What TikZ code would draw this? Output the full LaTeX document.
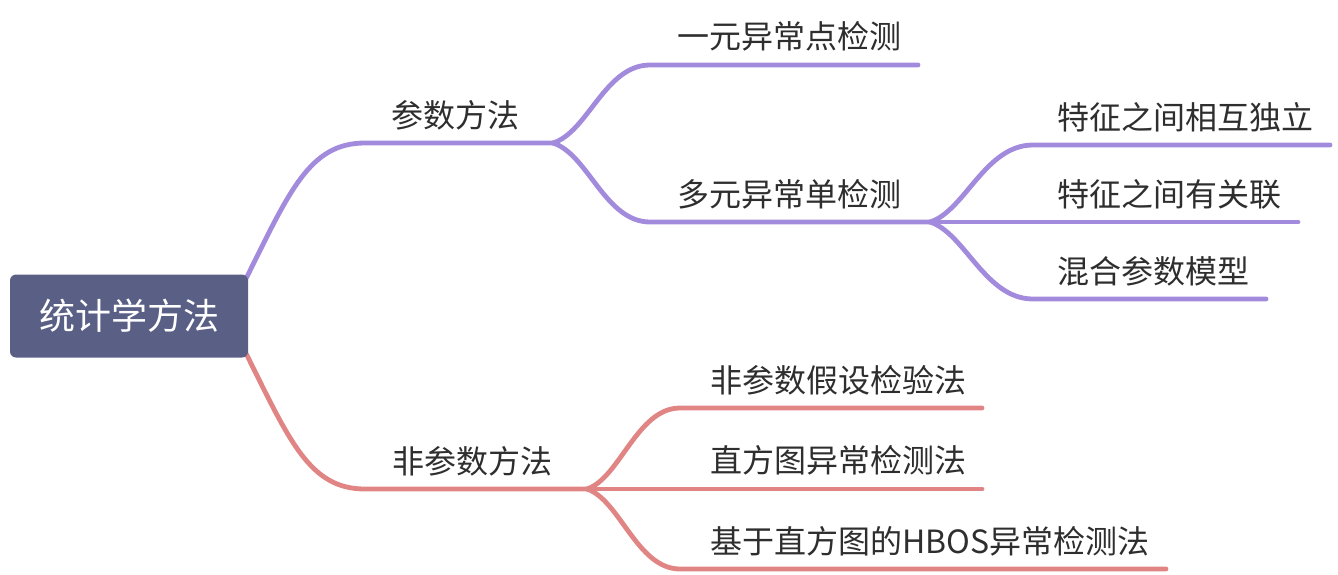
\documentclass[tikz,border=0pt]{standalone}
\usepackage{fontspec}
\setmainfont{Noto Sans CJK SC}
\usetikzlibrary{calc}
\pgfdeclarelayer{bg}
\pgfsetlayers{bg,main}
\definecolor{rootc}{HTML}{5A5F86}
\definecolor{purp}{HTML}{A28ADC}
\definecolor{redc}{HTML}{E08484}
\definecolor{txt}{HTML}{2E2E2E}
\begin{document}
\begin{tikzpicture}[x=1pt,y=-1pt,
  topic/.style={anchor=west,inner sep=0pt,text=txt,font=\fontsize{32}{32}\selectfont},
  rootbox/.style={fill=rootc,rounded corners=6pt,minimum width=238pt,minimum height=83pt,text=white,font=\fontsize{36}{36}\selectfont,inner sep=0pt},
  pl/.style={draw=purp,line width=4.8pt,line cap=round},
  rl/.style={draw=redc,line width=4.8pt,line cap=round}]
\useasboundingbox (0,0) rectangle (1338,574);
\node[rootbox] (root) at (129,316) {统计学方法};
% topic texts
\node[topic] (p1) at (391,115) {参数方法};
\node[topic] (a1) at (677,36) {一元异常点检测};
\node[topic] (a2) at (677,194) {多元异常单检测};
\node[topic] (b1) at (1057,117) {特征之间相互独立};
\node[topic] (b2) at (1057,194) {特征之间有关联};
\node[topic] (b3) at (1057,271) {混合参数模型};
\node[topic] (q1) at (392,461) {非参数方法};
\node[topic] (c1) at (710,380) {非参数假设检验法};
\node[topic] (c2) at (710,460) {直方图异常检测法};
\node[topic] (c3) at (710,541) {基于直方图的HBOS异常检测法};
% line coordinates
\coordinate (p1l) at (365,143); \coordinate (p1r) at (553,143);
\coordinate (a1l) at (650,65);  \coordinate (a1r) at (918,65);
\coordinate (a2l) at (650,222); \coordinate (a2r) at (930,222);
\coordinate (b1l) at (1033,145); \coordinate (b1r) at (1330,145);
\coordinate (b2r) at (1298,222);
\coordinate (b3l) at (1033,299); \coordinate (b3r) at (1266,299);
\coordinate (q1l) at (365,489); \coordinate (q1r) at (587,489);
\coordinate (c1l) at (680,408); \coordinate (c1r) at (982,408);
\coordinate (c2r) at (982,489);
\coordinate (c3l) at (680,569); \coordinate (c3r) at (1166,569);
\begin{pgfonlayer}{bg}
\draw[pl] ($(root.north east)+(-2,4)$) .. controls (290,190) and (310,143) .. (p1l) -- (p1r);
\draw[pl] (p1r) .. controls (588,132) and (605,65) .. (a1l) -- (a1r);
\draw[pl] (p1r) .. controls (588,154) and (605,222) .. (a2l) -- (a2r);
\draw[pl] (a2r) .. controls (965,211) and (985,145) .. (b1l) -- (b1r);
\draw[pl] (a2r) -- (b2r);
\draw[pl] (a2r) .. controls (965,233) and (985,299) .. (b3l) -- (b3r);
\draw[rl] ($(root.south east)+(-2,-4)$) .. controls (290,442) and (310,489) .. (q1l) -- (q1r);
\draw[rl] (q1r) .. controls (620,478) and (637,408) .. (c1l) -- (c1r);
\draw[rl] (q1r) -- (c2r);
\draw[rl] (q1r) .. controls (620,500) and (637,569) .. (c3l) -- (c3r);
\end{pgfonlayer}
\end{tikzpicture}
\end{document}
